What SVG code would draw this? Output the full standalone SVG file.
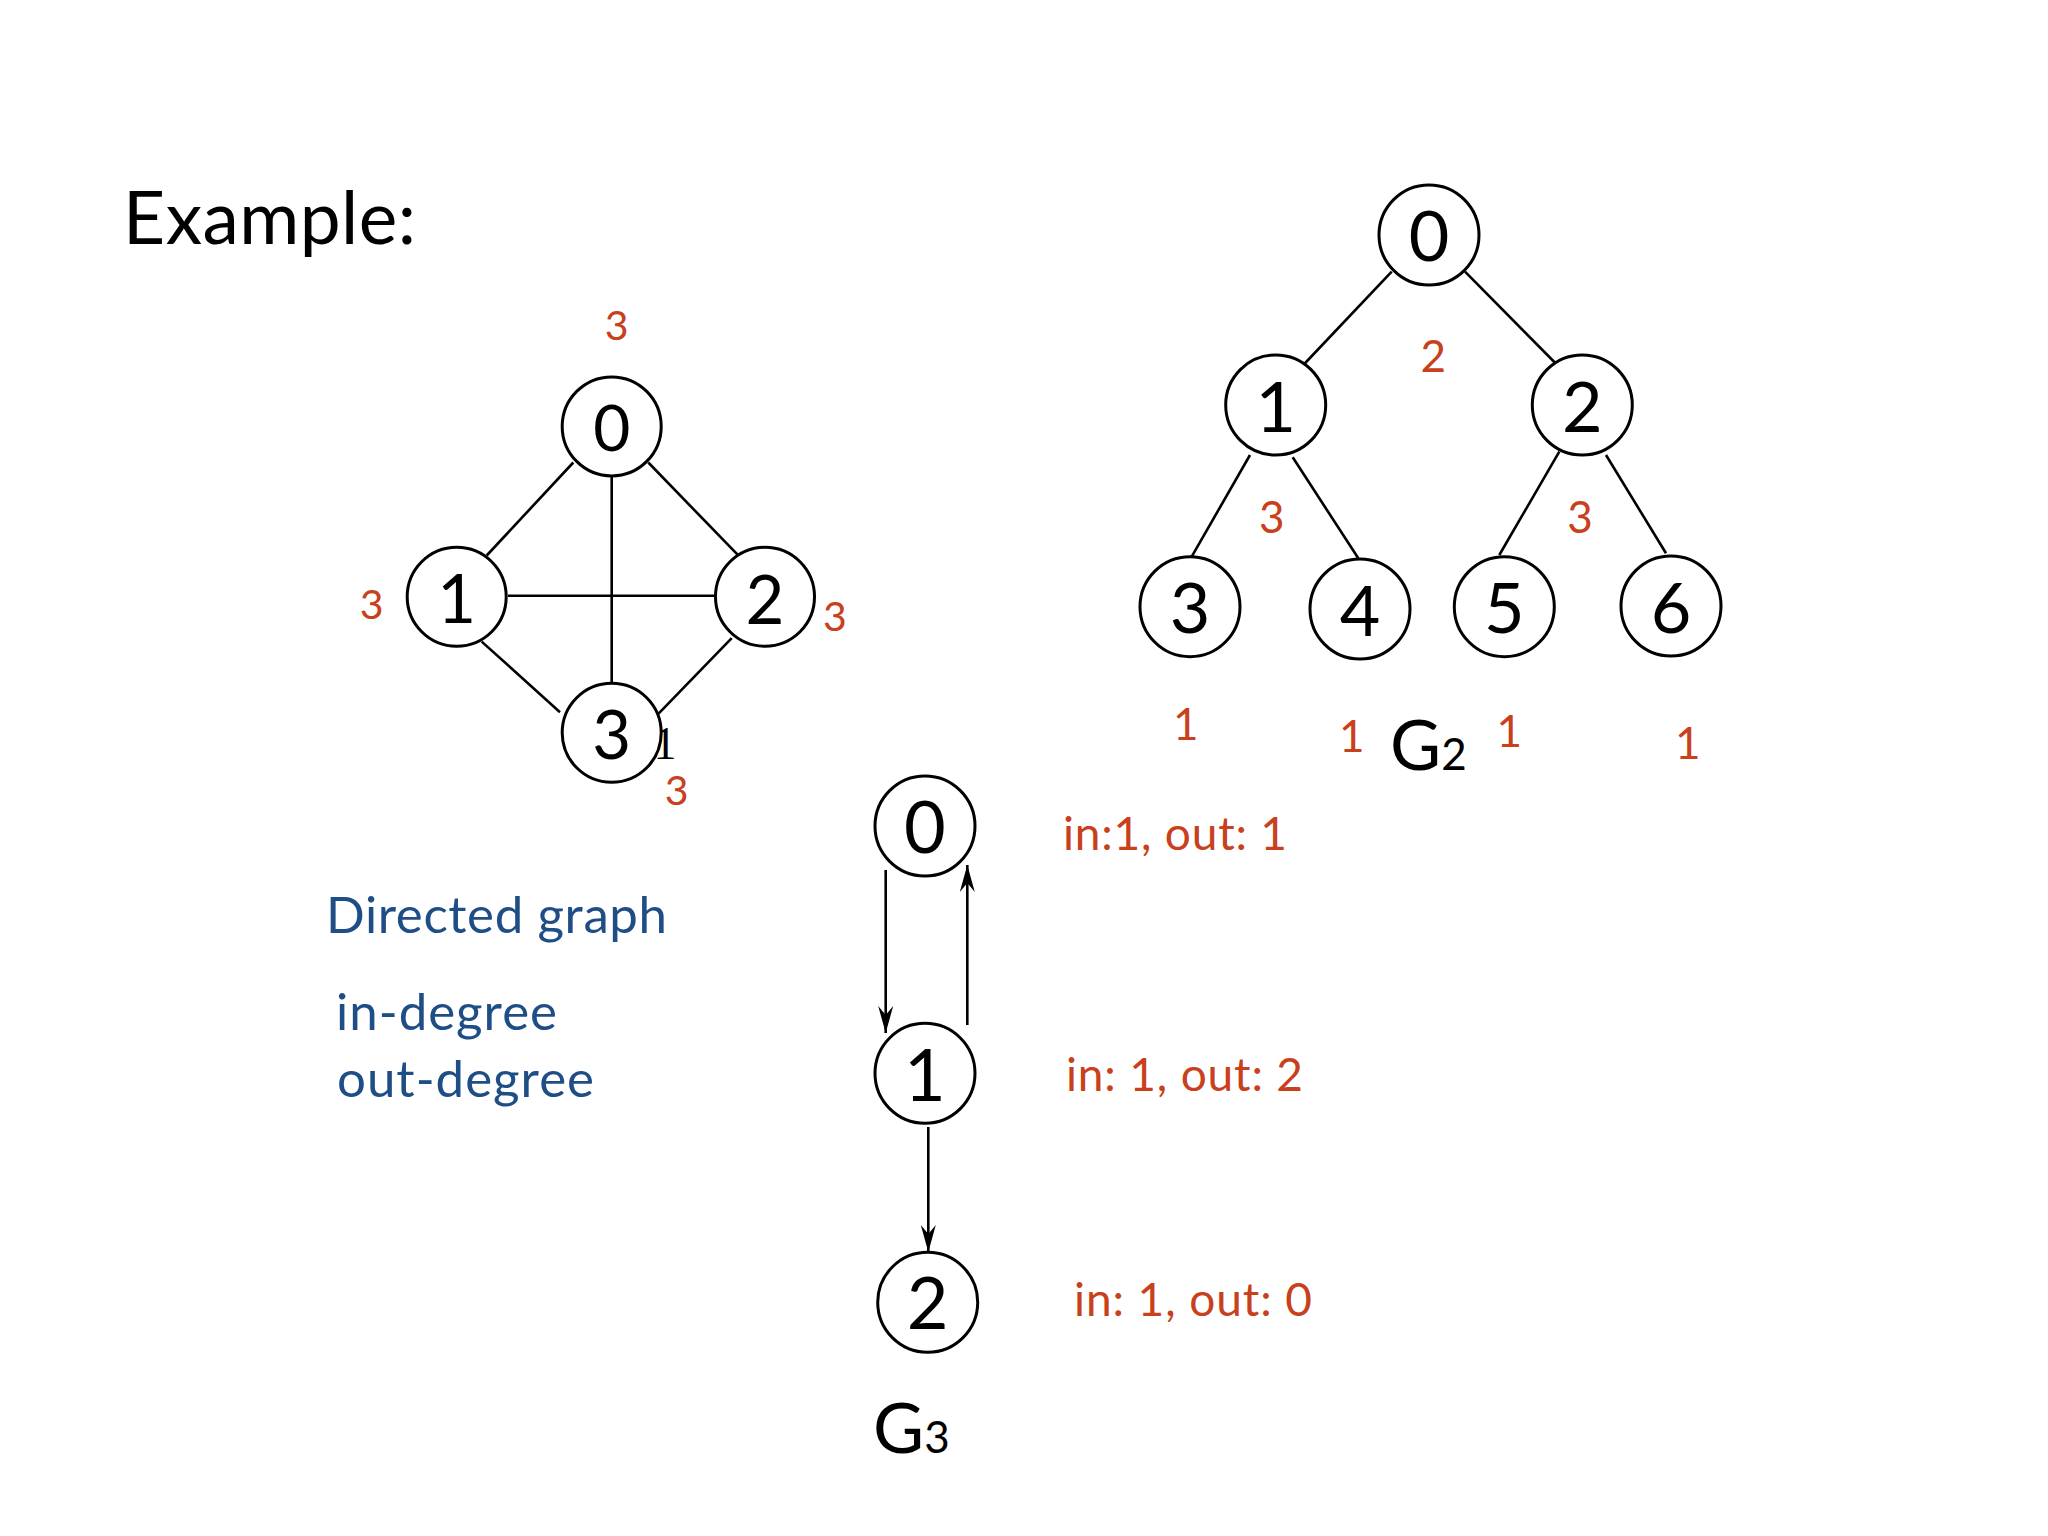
<svg xmlns="http://www.w3.org/2000/svg" width="2048" height="1536" viewBox="0 0 2048 1536">
<style>
.node{fill:#fff;stroke:#000;stroke-width:3}
.lbl{font-family:Lato,"Open Sans",sans-serif;fill:#000;text-anchor:middle}
.red{font-family:Lato,"Open Sans",sans-serif;fill:#C8401C}
.blue{font-family:Lato,"Open Sans",sans-serif;fill:#1F4E86}
.edge{stroke:#000;stroke-width:2.6;fill:none}
</style>
<defs>
<marker id="arr" markerUnits="userSpaceOnUse" markerWidth="30" markerHeight="20" viewBox="-28 -10 30 20" refX="0" refY="0" orient="auto">
<path d="M0,0 L-27,-7.5 L-18,0 L-27,7.5 Z" fill="#000"/>
</marker>
</defs>
<rect width="2048" height="1536" fill="#fff"/>
<text x="123" y="244" font-family="Lato,'Open Sans',sans-serif" font-size="73" fill="#000" textLength="293">Example:</text>

<g id="connectors">
<!-- G1 -->
<line class="edge" x1="573.3" y1="462.5" x2="486.7" y2="555.5"/>
<line class="edge" x1="648.3" y1="462.5" x2="740" y2="557.2"/>
<line class="edge" x1="611.7" y1="476" x2="611.7" y2="683"/>
<line class="edge" x1="508" y1="595.8" x2="715" y2="595.8"/>
<line class="edge" x1="481.7" y1="641.6" x2="560" y2="712.2"/>
<line class="edge" x1="731.7" y1="638.1" x2="658.3" y2="713.9"/>
<!-- G2 -->
<line class="edge" x1="1391.7" y1="271.7" x2="1303.3" y2="365"/>
<line class="edge" x1="1465" y1="271.7" x2="1557.3" y2="365"/>
<line class="edge" x1="1250" y1="455" x2="1191.7" y2="556.7"/>
<line class="edge" x1="1292.7" y1="457.3" x2="1358.3" y2="558.3"/>
<line class="edge" x1="1559.3" y1="451.7" x2="1499.3" y2="555"/>
<line class="edge" x1="1606" y1="455" x2="1666" y2="553.3"/>
<!-- G3 -->
<line class="edge" x1="885.7" y1="870" x2="885.7" y2="1033" marker-end="url(#arr)"/>
<line class="edge" x1="967.3" y1="1025" x2="967.3" y2="865" marker-end="url(#arr)"/>
<line class="edge" x1="928.3" y1="1127" x2="928.3" y2="1252" marker-end="url(#arr)"/>
</g>

<!-- hidden G1 label remnant -->
<text x="665" y="758.7" font-family="'Liberation Serif',serif" font-size="46" fill="#000" text-anchor="middle">1</text>

<g id="g1-node0"><circle class="node" cx="611.7" cy="426.4" r="49.5"/><text class="lbl" x="611.7" y="450.5" font-size="64">0</text></g>
<g id="g1-node1"><circle class="node" cx="456.7" cy="596.8" r="49.5"/><text class="lbl" x="456.7" y="622.6" font-size="67">1</text></g>
<g id="g1-node2"><circle class="node" cx="765" cy="596.8" r="49.5"/><text class="lbl" x="765" y="624" font-size="67">2</text></g>
<g id="g1-node3"><circle class="node" cx="611.7" cy="732.8" r="49.5"/><text class="lbl" x="611.7" y="758.7" font-size="67">3</text></g>

<g id="g1-degrees" class="red" font-size="41" text-anchor="middle">
<text x="616.7" y="340.3">3</text>
<text x="371.7" y="619.2">3</text>
<text x="835" y="631.2">3</text>
<text x="676.7" y="805">3</text>
</g>

<g id="g2-node0"><circle class="node" cx="1429" cy="235" r="50"/><text class="lbl" x="1429" y="260.7" font-size="70">0</text></g>
<g id="g2-node1"><circle class="node" cx="1275.7" cy="405" r="50"/><text class="lbl" x="1275.7" y="431.7" font-size="70">1</text></g>
<g id="g2-node2"><circle class="node" cx="1582.3" cy="405" r="50"/><text class="lbl" x="1582.3" y="431.7" font-size="70">2</text></g>
<g id="g2-node3"><circle class="node" cx="1190" cy="606.7" r="50"/><text class="lbl" x="1190" y="633.3" font-size="70">3</text></g>
<g id="g2-node4"><circle class="node" cx="1360" cy="609" r="50"/><text class="lbl" x="1360" y="635.7" font-size="70">4</text></g>
<g id="g2-node5"><circle class="node" cx="1504.3" cy="606.7" r="50"/><text class="lbl" x="1504.3" y="633.3" font-size="70">5</text></g>
<g id="g2-node6"><circle class="node" cx="1671" cy="606" r="50"/><text class="lbl" x="1671" y="632.7" font-size="70">6</text></g>

<g id="g2-degrees" class="red" font-size="44" text-anchor="middle">
<text x="1433.3" y="371.7">2</text>
<text x="1271.7" y="533.3">3</text>
<text x="1580" y="533.3">3</text>
<text x="1185.7" y="740">1</text>
<text x="1351.7" y="751.7">1</text>
<text x="1509.3" y="747.3">1</text>
<text x="1687.7" y="759">1</text>
</g>
<text id="g2-label" x="1390" y="770" font-family="Lato,'Open Sans',sans-serif" font-size="70" fill="#000">G<tspan font-size="44">2</tspan></text>

<g id="g3-node0"><circle class="node" cx="925" cy="826" r="50"/><text class="lbl" x="925" y="853.3" font-size="72">0</text></g>
<g id="g3-node1"><circle class="node" cx="925" cy="1073.3" r="50"/><text class="lbl" x="925" y="1101" font-size="72">1</text></g>
<g id="g3-node2"><circle class="node" cx="927.7" cy="1302.3" r="50"/><text class="lbl" x="927.7" y="1329.3" font-size="72">2</text></g>

<g id="g3-degrees" class="red" font-size="46">
<text x="1063" y="850" textLength="224">in:1, out: 1</text>
<text x="1066" y="1090.5" textLength="237">in: 1, out: 2</text>
<text x="1074" y="1315.5" textLength="238">in: 1, out: 0</text>
</g>
<text id="g3-label" x="873" y="1453.3" font-family="Lato,'Open Sans',sans-serif" font-size="70" fill="#000">G<tspan font-size="44">3</tspan></text>

<g id="legend" class="blue" font-size="51">
<text x="326" y="933.3" textLength="341">Directed graph</text>
<text x="336" y="1030" textLength="221">in-degree</text>
<text x="337" y="1097.3" textLength="257">out-degree</text>
</g>
</svg>
